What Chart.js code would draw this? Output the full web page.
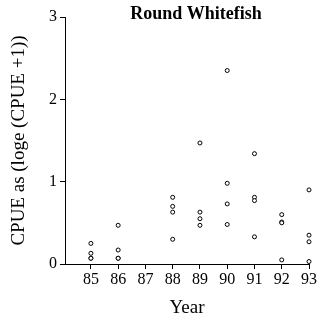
<!DOCTYPE html>
<html>
<head>
<meta charset="utf-8">
<script src="https://cdn.jsdelivr.net/npm/chart.js@4.4.1/dist/chart.umd.min.js"></script>
<style>
  html, body { margin: 0; padding: 0; background: #fff; }
  #wrap { width: 318px; height: 319px; }
</style>
</head>
<body>
<div id="wrap"><canvas id="fishChart"></canvas></div>
<script>
// tick labels on the year axis
const years = [85, 86, 87, 88, 89, 90, 91, 92, 93];
const yTicks = [0, 1, 2, 3];

// one entry per sample: year and CPUE as loge(CPUE+1)
const sampleYear = [85, 85, 85, 85, 86, 86, 86, 86, 88, 88, 88, 88, 89, 89, 89, 89,
                    90, 90, 90, 90, 91, 91, 91, 91, 92, 92, 92, 92, 93, 93, 93, 93];
const cpue = [0.25, 0.13, 0.07, 0.07, 0.47, 0.17, 0.07, 0.07, 0.81, 0.70, 0.63, 0.30,
              1.47, 0.63, 0.55, 0.47, 2.35, 0.98, 0.73, 0.48, 1.34, 0.81, 0.77, 0.33,
              0.60, 0.51, 0.50, 0.05, 0.90, 0.35, 0.27, 0.03];

const serif = "'Liberation Serif', 'Times New Roman', serif";
Chart.defaults.font.family = serif;
Chart.defaults.color = '#000';

// the title sits right of centre in the original, over the plot
const shiftTitle = {
  id: 'shiftTitle',
  afterLayout: chart => { chart.titleBlock.left = 80; },
};

const ctx = document.getElementById('fishChart').getContext('2d');

const fishChart = new Chart(ctx, {
  type: 'scatter',
  data: {
    datasets: [{
      data: sampleYear.map((yr, i) => ({ x: yr, y: cpue[i] })),
      pointRadius: 2,
      pointBorderWidth: 1,
      borderColor: '#000',
      backgroundColor: '#fff',
      clip: false,
    }],
  },
  plugins: [shiftTitle],
  options: {
    responsive: true,
    maintainAspectRatio: false,
    animation: false,
    layout: { padding: { left: 0, right: 6, top: 0, bottom: 0 } },
    plugins: {
      legend: { display: false },
      tooltip: { enabled: false },
      title: {
        display: true,
        text: 'Round Whitefish',
        font: { family: serif, size: 18, weight: 'bold', lineHeight: 1 },
        padding: { top: 5, bottom: -6 },
        color: '#000',
      },
    },
    scales: {
      x: {
        type: 'linear',
        min: 84.05,
        max: 93,
        afterBuildTicks: s => { s.ticks = years.map(v => ({ value: v })); },
        afterFit: s => { s.height = 55; },
        grid: { drawOnChartArea: false, drawTicks: true, tickLength: 5, color: '#000' },
        border: { display: true, color: '#000', width: 1 },
        ticks: { font: { size: 16 }, padding: 1, maxRotation: 0, callback: v => v },
        title: { display: true, text: 'Year', font: { size: 19 }, padding: { top: 6, bottom: 0 } },
      },
      y: {
        min: 0,
        max: 3,
        afterBuildTicks: s => { s.ticks = yTicks.map(v => ({ value: v })); },
        afterFit: s => { s.width = 65; },
        grid: { drawOnChartArea: false, drawTicks: true, tickLength: 5, color: '#000' },
        border: { display: true, color: '#000', width: 1 },
        ticks: { font: { size: 16 }, padding: 3, callback: v => v },
        title: { display: true, text: 'CPUE as (loge (CPUE +1))', font: { size: 19 }, padding: { top: 8, bottom: 0 } },
      },
    },
  },
});
</script>
</body>
</html>
